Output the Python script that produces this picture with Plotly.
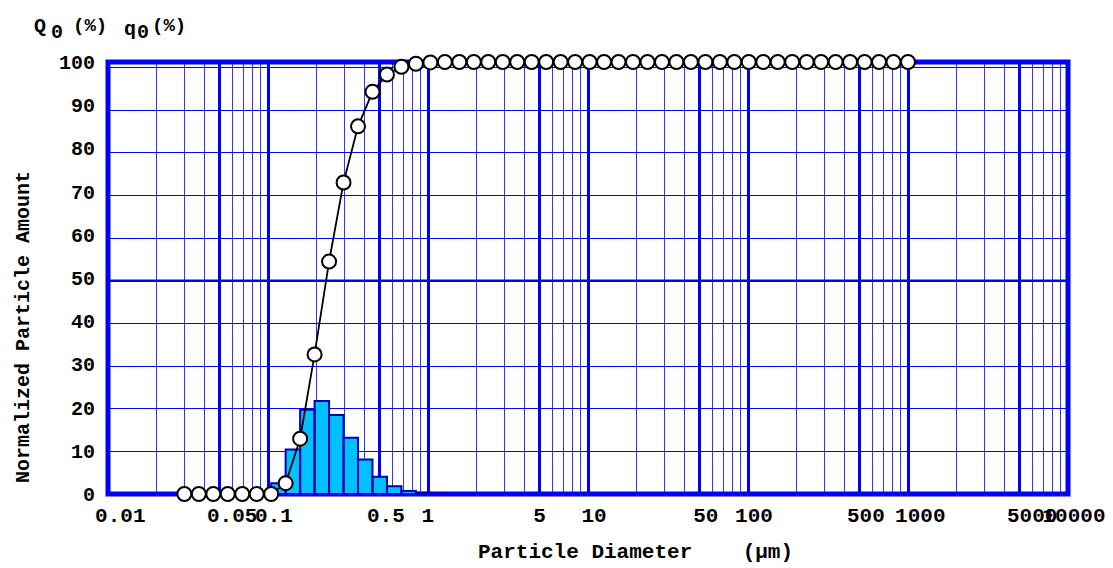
import plotly.graph_objects as go

# ---------------- data ----------------
diameters_um = [0.0300, 0.03695, 0.04550, 0.05604, 0.06902, 0.08500, 0.1047, 0.1289,
                0.1588, 0.1955, 0.2408, 0.2966, 0.3653, 0.4498, 0.5540, 0.6823,
                0.8403, 1.035, 1.275, 1.570, 1.933, 2.381, 2.932, 3.611,
                4.447, 5.477, 6.745, 8.307, 10.23, 12.60, 15.52, 19.11,
                23.54, 28.99, 35.70, 43.96, 54.14, 66.68, 82.12, 101.1,
                124.6, 153.4, 188.9, 232.7, 286.5, 352.9, 434.6, 535.2,
                659.2, 811.8, 1000.0]

cumulative_Q0 = [0, 0, 0, 0, 0, 0, 0, 2.5,
                 12.8, 32.3, 53.8, 72.1, 85.1, 93.1, 97.1, 98.9,
                 99.6, 99.9, 100, 100, 100, 100, 100, 100,
                 100, 100, 100, 100, 100, 100, 100, 100,
                 100, 100, 100, 100, 100, 100, 100, 100,
                 100, 100, 100, 100, 100, 100, 100, 100,
                 100, 100, 100]

frequency_q0 = [0, 0, 0, 0, 0, 0, 0, 2.5,
                10.3, 19.5, 21.5, 18.3, 13.0, 8.0, 4.0, 1.8,
                0.7, 0.3, 0.1, 0, 0, 0, 0, 0,
                0, 0, 0, 0, 0, 0, 0, 0,
                0, 0, 0, 0, 0, 0, 0, 0,
                0, 0, 0, 0, 0, 0, 0, 0,
                0, 0, 0]

x_tick_values = [0.01, 0.05, 0.1, 0.5, 1, 5, 10, 50, 100, 500, 1000, 5000, 10000]
x_tick_labels = ["0.01", "0.05", "0.1", "0.5", "1", "5", "10", "50", "100",
                 "500", "1000", "5000", "10000"]
y_tick_values = [0, 10, 20, 30, 40, 50, 60, 70, 80, 90, 100]
y_tick_labels = ["0", "10", "20", "30", "40", "50", "60", "70", "80", "90", "100"]

# ---------------- layout constants ----------------
OFF = 8                      # page body margin of the browser
W, H = 1105, 560
L, R, T, B = 100, 45, 54, 74
BLUE = "#0000FF"
FONT = "Liberation Mono, Courier New, monospace"
PLOT_W, PLOT_H = W - L - R, H - T - B


def px_to_paper(px, py):
    fx, fy = px - OFF, py - OFF
    return (fx - L) / PLOT_W, (H - B - fy) / PLOT_H


def pad_label(s):
    if len(s) == 4:
        return "\u00a0" + s
    if len(s) == 1:
        return s + "\u00a0"
    return s


fig = go.Figure()

# histogram bars as polygons between successive diameters
bx, by = [], []
for i in range(1, len(diameters_um)):
    q = frequency_q0[i]
    if q > 0:
        x0, x1 = diameters_um[i - 1], diameters_um[i]
        bx += [x0, x0, x1, x1, x0, None]
        by += [0, q, q, 0, 0, None]
fig.add_trace(go.Scatter(x=bx, y=by, mode="lines", fill="toself",
                         fillcolor="#00C0FF",
                         line=dict(color="#0000B0", width=2),
                         hoverinfo="skip", showlegend=False))

# cumulative curve with open markers
fig.add_trace(go.Scatter(x=diameters_um, y=cumulative_Q0, mode="lines+markers",
                         line=dict(color="black", width=1.8),
                         marker=dict(symbol="circle", size=14, color="white",
                                     line=dict(color="black", width=2)),
                         cliponaxis=False, showlegend=False))

# invisible trace to activate the grid axis
fig.add_trace(go.Scatter(x=[1], y=[0], yaxis="y2", mode="markers",
                         marker=dict(opacity=0), hoverinfo="skip",
                         showlegend=False))

shapes = [
    # frame (drawn beneath the data so the markers sit on top of it)
    dict(type="rect", xref="paper", yref="paper", x0=0, x1=1, y0=0, y1=1,
         line=dict(color=BLUE, width=5), fillcolor="rgba(0,0,0,0)", layer="below"),
    # thick 50 % grid line
    dict(type="line", xref="paper", yref="y2", x0=0, x1=1, y0=50, y1=50,
         line=dict(color=BLUE, width=2.7), layer="between"),
]

minor_grid = [m * 10.0 ** e for e in range(-2, 4) for m in (2, 3, 4, 6, 7, 8, 9)]

annotations = []


def add_text(text, px, py, size, xanchor="center", angle=0):
    ax, ay = px_to_paper(px, py)
    annotations.append(dict(text=text, x=ax, y=ay, xref="paper", yref="paper",
                            xanchor=xanchor, yanchor="middle", showarrow=False,
                            textangle=angle,
                            font=dict(family=FONT, size=size, color="black",
                                      weight="bold")))


add_text("Q", 40, 27, 20)
add_text("0", 57, 32, 20)
add_text("(%)", 90, 25.5, 19)
add_text("q", 130, 29, 20)
add_text("0", 143, 32, 20)
add_text("(%)", 169, 25.5, 19)
add_text("Normalized Particle Amount", 23, 327, 20, angle=-90)
add_text("Particle Diameter\u00a0\u00a0\u00a0\u00a0(μm)", 476, 552, 21, xanchor="left")

fig.update_layout(
    width=W, height=H,
    margin=dict(l=L, r=R, t=T, b=B, autoexpand=False),
    paper_bgcolor="white", plot_bgcolor="white",
    shapes=shapes, annotations=annotations,
    xaxis=dict(type="log", range=[-2, 4], tickmode="array",
               tickvals=x_tick_values,
               ticktext=[pad_label(s) for s in x_tick_labels],
               tickangle=0, showgrid=True, gridcolor=BLUE, gridwidth=2.5,
               minor=dict(tickvals=minor_grid, showgrid=True,
                          gridcolor="rgba(0,0,255,0.8)", gridwidth=1, ticks=""),
               zeroline=False, showline=False, ticks="",
               ticklabelshift=6, ticklabelstandoff=6,
               tickfont=dict(family=FONT, size=21, color="black", weight="bold"),
               automargin=False),
    yaxis=dict(range=[0, 100], tickmode="array", tickvals=y_tick_values,
               ticktext=y_tick_labels, showgrid=False, zeroline=False,
               showline=False, ticks="", ticklabelstandoff=12,
               tickfont=dict(family=FONT, size=20, color="black", weight="bold"),
               automargin=False),
    yaxis2=dict(range=[0, 101.3], overlaying="y", side="left", tick0=0, dtick=10,
                showgrid=True, gridcolor=BLUE, gridwidth=1, zeroline=False,
                showticklabels=False, ticks="", showline=False, automargin=False),
)

fig.write_html("out.html")
